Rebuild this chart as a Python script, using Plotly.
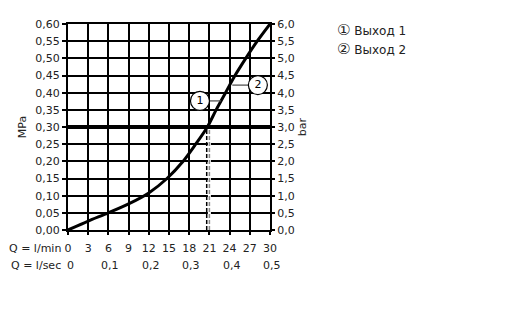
import plotly.graph_objects as go

# Data
q_lpm = [0, 3, 6, 9, 12, 14.7, 17.1, 18.97, 20.7, 22.0, 23.4, 24.8, 26.4, 28.1, 30]
p_mpa = [0, 0.026, 0.05, 0.076, 0.108, 0.15, 0.20, 0.25, 0.30, 0.35, 0.40, 0.45, 0.50, 0.55, 0.60]

x_ticks = [0, 3, 6, 9, 12, 15, 18, 21, 24, 27, 30]
x_tick_labels = [str(v) for v in x_ticks]
lsec_pos = [0, 6, 12, 18, 24, 30]
lsec_labels = ["0", "0,1", "0,2", "0,3", "0,4", "0,5"]
mpa_ticks = [round(i * 0.05, 2) for i in range(13)]
mpa_labels = ["0,00", "0,05", "0,10", "0,15", "0,20", "0,25", "0,30", "0,35", "0,40", "0,45", "0,50", "0,55", "0,60"]
bar_ticks = [i * 0.5 for i in range(13)]
bar_labels = ["0,0", "0,5", "1,0", "1,5", "2,0", "2,5", "3,0", "3,5", "4,0", "4,5", "5,0", "5,5", "6,0"]

ref_pressure = 0.30
flow_at_ref = [20.6, 21.0]
marker_pos = {"1": (19.6, 0.376), "2": (28.2, 0.422)}
leader_1 = ([20.95, 22.7], [0.376, 0.376])
leader_2 = ([24.4, 26.85], [0.422, 0.422])
legend_symbols = ["①", "②"]
legend_items = ["Выход 1", "Выход 2"]

FONT = "DejaVu Sans"
fig = go.Figure()

# cover solid grid line at 21 below reference line
fig.add_trace(go.Scatter(x=[flow_at_ref[1], flow_at_ref[1]], y=[0, ref_pressure], mode="lines",
                         line=dict(color="white", width=3), hoverinfo="skip"))
fig.add_trace(go.Scatter(x=[flow_at_ref[1], flow_at_ref[1]], y=[0, ref_pressure], mode="lines",
                         line=dict(color="#888888", width=1.5, dash="4px,2px"), hoverinfo="skip"))
fig.add_trace(go.Scatter(x=[flow_at_ref[0], flow_at_ref[0]], y=[0, ref_pressure], mode="lines",
                         line=dict(color="black", width=1.5, dash="4px,2px"), hoverinfo="skip"))
# reference line
fig.add_trace(go.Scatter(x=[0, 30], y=[ref_pressure, ref_pressure], mode="lines",
                         line=dict(color="black", width=4), hoverinfo="skip"))
# curve
fig.add_trace(go.Scatter(x=q_lpm, y=p_mpa, mode="lines",
                         line=dict(color="black", width=3, shape="spline", smoothing=0.8)))
# leaders
fig.add_trace(go.Scatter(x=leader_1[0], y=leader_1[1], mode="lines", line=dict(color="#555555", width=1.3)))
fig.add_trace(go.Scatter(x=leader_2[0], y=leader_2[1], mode="lines", line=dict(color="#555555", width=1.3)))
# circled numbers
fig.add_trace(go.Scatter(
    x=[v[0] for v in marker_pos.values()], y=[v[1] for v in marker_pos.values()],
    mode="markers+text", text=list(marker_pos.keys()), textposition="middle center",
    textfont=dict(family=FONT, size=11, color="black"),
    marker=dict(symbol="circle", size=19, color="white", line=dict(color="black", width=1.2))))
# invisible trace to activate right axis
fig.add_trace(go.Scatter(x=[0, 30], y=[0, 6], yaxis="y2", mode="lines",
                         line=dict(color="rgba(0,0,0,0)"), hoverinfo="skip"))

fig.update_layout(
    width=508, height=324,
    margin=dict(l=68, r=238, t=24, b=94),
    paper_bgcolor="white", plot_bgcolor="white",
    showlegend=False,
    font=dict(family=FONT, size=11, color="#222222"),
    xaxis=dict(range=[0, 30], tickvals=x_ticks, ticktext=x_tick_labels,
               showgrid=True, gridcolor="black", gridwidth=1.5,
               showline=True, linecolor="black", linewidth=2, mirror=True,
               ticks="outside", ticklen=3, tickcolor="black", tickwidth=1.5,
               ticklabelstandoff=4, zeroline=False, fixedrange=True),
    yaxis=dict(range=[0, 0.6], tickvals=mpa_ticks, ticktext=mpa_labels,
               showgrid=True, gridcolor="black", gridwidth=1.5,
               showline=True, linecolor="black", linewidth=2, mirror=True,
               ticks="outside", ticklen=4, tickcolor="black", tickwidth=1.5,
               zeroline=False, fixedrange=True,
               title=dict(text="MPa", standoff=6, font=dict(size=11))),
    yaxis2=dict(range=[0, 6], tickvals=bar_ticks, ticktext=bar_labels, overlaying="y", side="right",
                showgrid=False, showline=False, ticks="outside", ticklen=4, tickcolor="black", tickwidth=1.5,
                zeroline=False, fixedrange=True,
                title=dict(text="bar", standoff=4, font=dict(size=11))),
)

annotations = [
    dict(text="Q = l/min", xref="x", x=0, xanchor="right", xshift=-5,
         yref="paper", y=0, yanchor="middle", yshift=-18, showarrow=False),
    dict(text="Q = l/sec", xref="x", x=0, xanchor="right", xshift=-5,
         yref="paper", y=0, yanchor="middle", yshift=-35, showarrow=False),
]
for pos, lab in zip(lsec_pos, lsec_labels):
    annotations.append(dict(text=lab, xref="x", x=pos, xanchor="center", xshift=2,
                            yref="paper", y=0, yanchor="middle", yshift=-35, showarrow=False))
for i, (sym, item) in enumerate(zip(legend_symbols, legend_items)):
    annotations.append(dict(text=f'<span style="font-size:15px">{sym}</span> {item}',
                            xref="paper", x=(335 - 68) / 202, xanchor="left",
                            yref="paper", y=(230 - (30 + 19 * i)) / 206, yanchor="middle",
                            showarrow=False, font=dict(size=12, color="#222222")))
fig.update_layout(annotations=annotations)

fig.write_html("out.html")
